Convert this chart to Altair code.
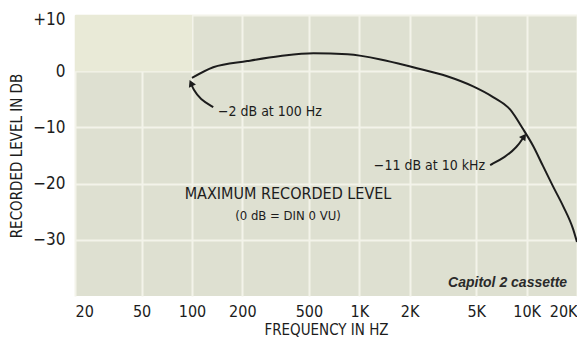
import altair as alt
import pandas as pd

# Curve
freq = [100, 134, 214, 338, 532, 851, 1340, 2100, 3350, 4790, 6300, 7960, 9520, 10940, 12540, 14380, 16520, 18960, 20000]
level = [-1.2, 0.7, 1.8, 2.7, 3.2, 3.0, 2.1, 0.7, -0.9, -2.7, -4.6, -6.8, -10.3, -13.3, -16.9, -20.5, -24.0, -28.1, -30.4]

# Axis ticks
x_ticks = [20, 50, 100, 200, 500, 1000, 2000, 5000, 10000, 20000]
y_ticks = [10, 0, -10, -20, -30]

# Annotation arrows (data space)
arrow1_f = [134, 112, 101.5, 98.7]
arrow1_db = [-6.4, -5.0, -3.2, -2.1]
arrow2_f = [6052, 7435, 8770, 9658]
arrow2_db = [-16.7, -15.3, -13.5, -11.6]

# Annotation texts
notes = ["−2 dB at 100 Hz", "−11 dB at 10 kHz"]
notes_f = [143, 5650]
notes_db = [-7.3, -16.9]

FONT = "DejaVu Sans Condensed"
INK = "#1c1c1c"

xscale = alt.Scale(type="log", domain=[20, 20000], nice=False)
yscale = alt.Scale(domain=[-40, 10], nice=False)

curve = pd.DataFrame({"f": freq, "db": level})

light = pd.DataFrame({"f": [20], "f2": [100], "db": [0], "db2": [10]})
bg = alt.Chart(light).mark_rect(color="#e9ead7").encode(
    x=alt.X("f:Q", scale=xscale), x2="f2:Q",
    y=alt.Y("db:Q", scale=yscale), y2="db2:Q")

xaxis = alt.Axis(values=x_ticks, title="FREQUENCY IN HZ",
                 labelExpr="datum.value >= 1000 ? format(datum.value/1000, 'd') + 'K' : format(datum.value, 'd')",
                 grid=True, gridColor="#f3f3ea", gridWidth=2, ticks=False, domain=False,
                 labelFlush=True, labelPadding=7, labelFontSize=16, labelFont=FONT, labelColor=INK,
                 titleFont=FONT, titleFontSize=15, titleFontWeight="normal", titleColor=INK, titlePadding=3)
yaxis = alt.Axis(values=y_ticks, title="RECORDED LEVEL IN DB",
                 labelExpr="datum.value > 0 ? '+' + datum.value : (datum.value < 0 ? '−' + abs(datum.value) : '0')",
                 grid=True, gridColor="#f3f3ea", gridWidth=2, ticks=False, domain=False,
                 labelFlush=True, labelFlushOffset=4,
                 labelPadding=10, labelFontSize=17, labelFont=FONT, labelColor=INK,
                 titleFont=FONT, titleFontSize=15, titleFontWeight="normal", titleColor=INK, titlePadding=8)

line = alt.Chart(curve).mark_line(color=INK, strokeWidth=2, interpolate="monotone").encode(
    x=alt.X("f:Q", scale=xscale, axis=xaxis),
    y=alt.Y("db:Q", scale=yscale, axis=yaxis))

arr = pd.DataFrame({
    "f": arrow1_f + arrow2_f,
    "db": arrow1_db + arrow2_db,
    "k": ["a"] * len(arrow1_f) + ["b"] * len(arrow2_f),
    "o": list(range(len(arrow1_f))) + list(range(len(arrow2_f))),
})
arrows = alt.Chart(arr).mark_line(color=INK, strokeWidth=2, interpolate="basis").encode(
    x=alt.X("f:Q", scale=xscale), y=alt.Y("db:Q", scale=yscale),
    detail="k:N", order="o:Q")

heads = pd.DataFrame({"f": [arrow1_f[-1], arrow2_f[-1]], "db": [arrow1_db[-1], arrow2_db[-1]],
                      "ang": [335, 35]})
arrowheads = alt.Chart(heads).mark_point(shape="triangle-up", filled=True, color=INK, size=60, opacity=1).encode(
    x=alt.X("f:Q", scale=xscale), y=alt.Y("db:Q", scale=yscale), angle=alt.Angle("ang:Q", scale=None))

nt = pd.DataFrame({"t": notes, "f": notes_f, "db": notes_db})
note_left = alt.Chart(nt.iloc[[0]]).mark_text(font=FONT, fontSize=14, color=INK, align="left", baseline="middle").encode(
    x=alt.X("f:Q", scale=xscale), y=alt.Y("db:Q", scale=yscale), text="t:N")
note_right = alt.Chart(nt.iloc[[1]]).mark_text(font=FONT, fontSize=14, color=INK, align="right", baseline="middle").encode(
    x=alt.X("f:Q", scale=xscale), y=alt.Y("db:Q", scale=yscale), text="t:N")

titles = pd.DataFrame({"t": ["MAXIMUM RECORDED LEVEL", "(0 dB = DIN 0 VU)"], "f": [375, 375],
                       "db": [-21.9, -25.8]})
title_main = alt.Chart(titles.iloc[[0]]).mark_text(font=FONT, fontSize=16, color=INK, align="center",
                                                    baseline="middle", fontWeight=500).encode(
    x=alt.X("f:Q", scale=xscale), y=alt.Y("db:Q", scale=yscale), text="t:N")
title_sub = alt.Chart(titles.iloc[[1]]).mark_text(font=FONT, fontSize=13, color=INK, align="center",
                                                   baseline="middle").encode(
    x=alt.X("f:Q", scale=xscale), y=alt.Y("db:Q", scale=yscale), text="t:N")

cap = pd.DataFrame({"t": ["Capitol 2 cassette"], "f": [17460], "db": [-37.7]})
caption = alt.Chart(cap).mark_text(font="Liberation Sans, Arial, sans-serif", fontSize=14, fontStyle="italic",
                                   fontWeight="bold", color="#2a2a2a", align="right", baseline="middle").encode(
    x=alt.X("f:Q", scale=xscale), y=alt.Y("db:Q", scale=yscale), text="t:N")

chart = alt.layer(bg, line, arrows, arrowheads, note_left, note_right, title_main, title_sub, caption).properties(
    width=502, height=281,
    autosize=alt.AutoSizeParams(type="none"),
    padding={"left": 67, "top": 7, "right": 0, "bottom": 48},
    background="white",
).configure_view(fill="#dee0d1", stroke=None)

chart.save("out.html", embed_options={"renderer": "svg", "actions": False})
